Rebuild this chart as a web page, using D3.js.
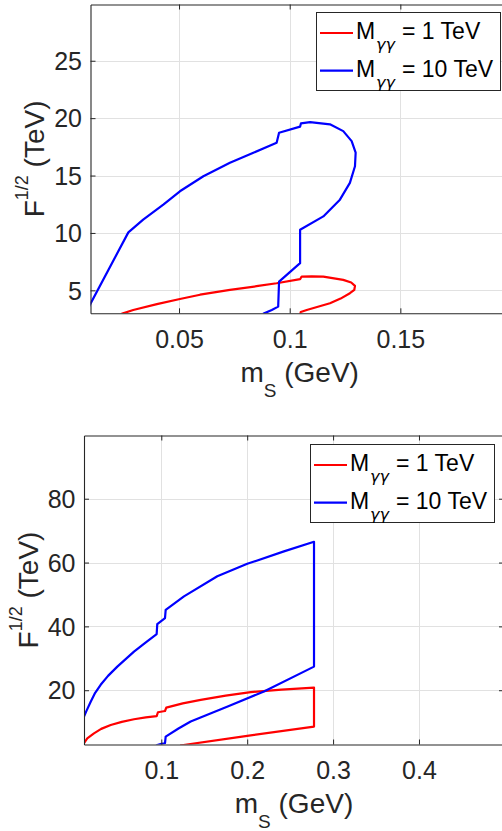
<!DOCTYPE html>
<html><head><meta charset="utf-8">
<script src="https://cdn.jsdelivr.net/npm/d3@7"></script>
<style>body{margin:0;background:#fff}svg{display:block}</style>
</head><body>
<svg id="c" width="502" height="831"></svg>
<script>
// ---------- data ----------
const seriesLabels = ["= 1 TeV", "= 10 TeV"];
const seriesColors = ["#ff0000", "#0000ff"];
const legendSymbol = "M";
const legendSub = "γγ";

// top panel
const topXTicks = [0.05, 0.1, 0.15];
const topYTicks = [5, 10, 15, 20, 25];
const top1x = [0.0240, 0.0293, 0.0400, 0.0504, 0.0595, 0.0730, 0.0850, 0.0941, 0.1047, 0.1054, 0.1100, 0.1152, 0.1242, 0.1278, 0.1295, 0.1292, 0.1272, 0.1230, 0.1182, 0.1077, 0.1050, 0.1048];
const top1y = [2.95, 3.29, 3.80, 4.25, 4.62, 5.04, 5.36, 5.62, 5.97, 6.20, 6.22, 6.20, 5.91, 5.68, 5.39, 5.05, 4.75, 4.28, 3.87, 3.29, 3.12, 2.90];
const top10x = [0.0880, 0.0919, 0.0948, 0.0952, 0.1047, 0.1047, 0.1152, 0.1227, 0.1272, 0.1295, 0.1298, 0.1280, 0.1242, 0.1182, 0.1092, 0.1051, 0.1047, 0.0952, 0.0941, 0.0836, 0.0730, 0.0610, 0.0504, 0.0429, 0.0338, 0.0271, 0.0097, 0.0080];
const top10y = [2.95, 3.29, 3.58, 5.76, 7.37, 10.28, 11.44, 12.90, 14.36, 15.81, 16.99, 18.00, 18.87, 19.46, 19.66, 19.55, 19.26, 18.73, 17.86, 16.99, 16.11, 14.94, 13.63, 12.47, 11.16, 10.05, 3.73, 3.00];

// bottom panel
const botXTicks = [0.1, 0.2, 0.3, 0.4];
const botYTicks = [20, 40, 60, 80];
const bot1x = [0.0090, 0.0100, 0.0138, 0.0216, 0.0300, 0.0411, 0.0540, 0.0682, 0.0820, 0.0946, 0.0961, 0.1043, 0.1058, 0.1250, 0.1459, 0.1750, 0.2041, 0.2400, 0.2778, 0.2778, 0.2000, 0.1258, 0.1220];
const bot1y = [3.0, 3.4, 4.95, 6.5, 7.9, 9.1, 10.1, 10.9, 11.5, 11.9, 13.1, 13.5, 14.55, 15.9, 17.0, 18.3, 19.4, 20.2, 20.8, 8.6, 5.7, 2.85, 2.7];
const bot10x = [0.0940, 0.0953, 0.1000, 0.1043, 0.1051, 0.1200, 0.1342, 0.1780, 0.2195, 0.2778, 0.2778, 0.2428, 0.2001, 0.1652, 0.1264, 0.1051, 0.1043, 0.0953, 0.0946, 0.0820, 0.0682, 0.0488, 0.0380, 0.0294, 0.0230, 0.0178, 0.0130, 0.0100, 0.0092];
const bot10y = [2.6, 2.85, 3.2, 3.4, 5.45, 8.0, 10.2, 15.0, 19.6, 27.4, 66.5, 63.5, 59.6, 55.7, 49.4, 45.2, 42.6, 40.7, 37.6, 35.0, 32.1, 27.4, 24.5, 21.7, 19.2, 16.4, 13.6, 11.73, 10.8];

// ---------- drawing ----------
const svg = d3.select("#c");
svg.append("rect").attr("width", 502).attr("height", 831).attr("fill", "#fff");
const AX = "#262626", GRID = "#e1e1e1", FONT = "'Liberation Sans', Arial, Helvetica, sans-serif";

function panel(cfg) {
  const x = d3.scaleLinear().domain(cfg.xd).range([cfg.l, cfg.r]);
  const y = d3.scaleLinear().domain(cfg.yd).range([cfg.b, cfg.t]);
  const g = svg.append("g");
  const cid = "clip" + cfg.id;
  svg.append("clipPath").attr("id", cid).append("rect")
    .attr("x", cfg.l).attr("y", cfg.t).attr("width", cfg.r - cfg.l).attr("height", cfg.b - cfg.t);

  // grid
  g.append("g").selectAll("line").data(cfg.xt).join("line")
    .attr("x1", d => Math.round(x(d)) + 0.5).attr("x2", d => Math.round(x(d)) + 0.5)
    .attr("y1", cfg.t).attr("y2", cfg.b).attr("stroke", GRID).attr("stroke-width", 1);
  g.append("g").selectAll("line").data(cfg.yt).join("line")
    .attr("y1", d => Math.round(y(d)) + 0.5).attr("y2", d => Math.round(y(d)) + 0.5)
    .attr("x1", cfg.l).attr("x2", cfg.r).attr("stroke", GRID).attr("stroke-width", 1);

  // data lines
  const line = d3.line().x(d => x(d[0])).y(d => y(d[1]));
  cfg.series.forEach((s, i) => {
    const pts = s.x.map((v, k) => [v, s.y[k]]);
    g.append("path").attr("d", line(pts)).attr("fill", "none")
      .attr("stroke", seriesColors[i]).attr("stroke-width", 2.2)
      .attr("stroke-linejoin", "round").attr("clip-path", `url(#${cid})`);
  });

  // axes (inward ticks)
  const tl = 5;
  const xa = g.append("g").attr("transform", `translate(0,${cfg.b})`)
    .call(d3.axisBottom(x).tickValues(cfg.xt).tickSizeInner(-tl).tickSizeOuter(0).tickFormat(d3.format("~g")));
  const ya = g.append("g").attr("transform", `translate(${cfg.l},0)`)
    .call(d3.axisLeft(y).tickValues(cfg.yt).tickSizeInner(-tl).tickSizeOuter(0).tickFormat(d3.format("~g")));
  const xt2 = g.append("g").attr("transform", `translate(0,${cfg.t})`)
    .call(d3.axisTop(x).tickValues(cfg.xt).tickSizeInner(-tl).tickSizeOuter(0).tickFormat(""));
  const yt2 = g.append("g").attr("transform", `translate(${cfg.r},0)`)
    .call(d3.axisRight(y).tickValues(cfg.yt).tickSizeInner(-tl).tickSizeOuter(0).tickFormat(""));
  [xa, ya, xt2, yt2].forEach(a => {
    a.select(".domain").attr("stroke", AX).attr("stroke-width", 1.1);
    a.selectAll(".tick line").attr("stroke", AX).attr("stroke-width", 1);
    a.selectAll("text").attr("fill", AX).attr("font-family", FONT).attr("font-size", 25);
  });
  xa.selectAll(".tick text").attr("y", cfg.xLabelOff).attr("dy", null);
  ya.selectAll(".tick text").attr("x", -8.5).attr("dy", "0.35em");

  // axis labels
  const xl = svg.append("text").attr("x", (cfg.l + cfg.r) / 2).attr("y", cfg.b + 68.4)
    .attr("text-anchor", "middle").attr("font-family", FONT).attr("font-size", 28).attr("fill", AX);
  xl.append("tspan").text("m");
  xl.append("tspan").attr("font-size", 19).attr("dy", 15).text("S");
  xl.append("tspan").attr("dy", -15).text(" (GeV)");

  const yl = svg.append("text")
    .attr("transform", `translate(${cfg.l - 46.5},${(cfg.t + cfg.b) / 2}) rotate(-90)`)
    .attr("text-anchor", "middle").attr("font-family", FONT).attr("font-size", 28).attr("fill", AX);
  yl.append("tspan").text("F");
  yl.append("tspan").attr("font-size", 18).attr("dy", -16).text("1/2");
  yl.append("tspan").attr("dy", 16).text(" (TeV)");

  // legend
  const L = cfg.leg;
  const lg = svg.append("g").attr("transform", `translate(${L.x},${L.y})`);
  lg.append("rect").attr("x", 0.5).attr("y", 0.5).attr("width", 184).attr("height", 78)
    .attr("fill", "#fff").attr("stroke", AX).attr("stroke-width", 1);
  seriesLabels.forEach((lab, i) => {
    const ry = 21 + i * 37.7;
    lg.append("line").attr("x1", 4).attr("x2", 37).attr("y1", ry).attr("y2", ry)
      .attr("stroke", seriesColors[i]).attr("stroke-width", 2.2);
    lg.append("text").attr("x", 40).attr("y", ry + 6).attr("font-family", FONT)
      .attr("font-size", 23).attr("fill", "#000").text(legendSymbol);
    lg.append("text").attr("x", 60).attr("y", ry + 17).attr("font-family", "'DejaVu Sans', sans-serif")
      .attr("font-style", "italic").attr("font-size", 15).attr("fill", "#000")
      .attr("textLength", 19).attr("lengthAdjust", "spacingAndGlyphs").text(legendSub);
    lg.append("text").attr("x", 86).attr("y", ry + 6).attr("font-family", FONT)
      .attr("font-size", 23).attr("fill", "#000").text(lab);
  });
}

panel({
  id: "top", l: 90.5, r: 508.8, t: 4.5, b: 313.3,
  xd: [0.01, 0.199], yd: [3, 29.9], xt: topXTicks, yt: topYTicks, xLabelOff: 35,
  series: [{x: top1x, y: top1y}, {x: top10x, y: top10y}],
  leg: {x: 316, y: 12}
});
panel({
  id: "bot", l: 84, r: 504, t: 435.5, b: 744.5,
  xd: [0.01, 0.499], yd: [3, 99.8], xt: botXTicks, yt: botYTicks, xLabelOff: 34,
  series: [{x: bot1x, y: bot1y}, {x: bot10x, y: bot10y}],
  leg: {x: 310, y: 444}
});
</script>
</body></html>
